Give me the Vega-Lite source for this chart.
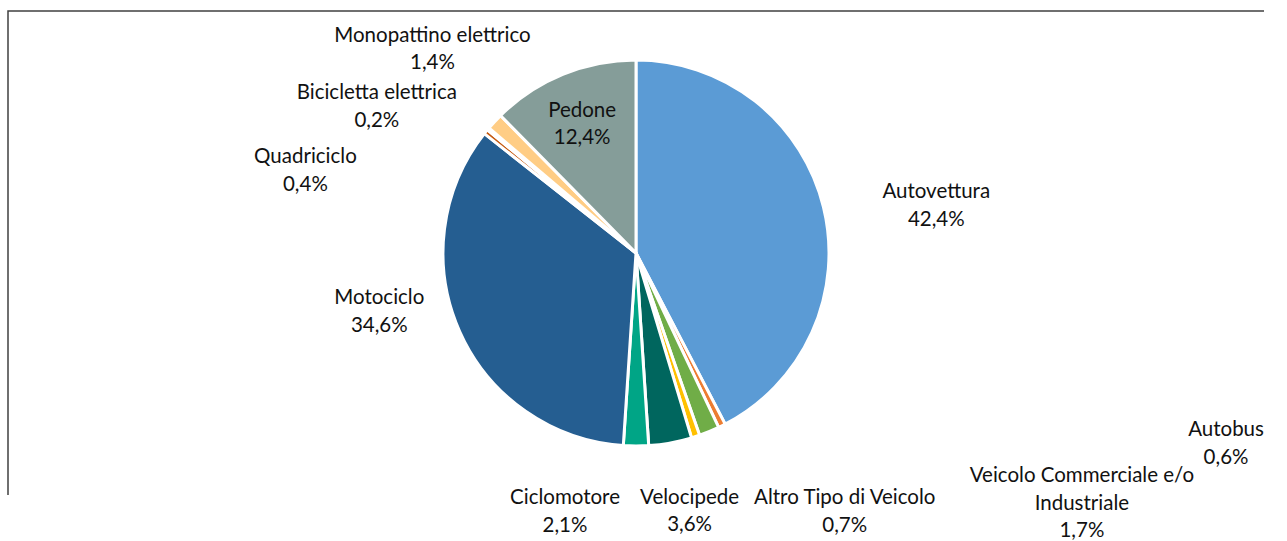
{
  "$schema": "https://vega.github.io/schema/vega-lite/v6.json",
  "width": 1256,
  "height": 484,
  "autosize": {"type": "none"},
  "padding": {"left": 8, "top": 11, "right": 23, "bottom": 46},
  "background": "white",
  "view": {"stroke": "#404040", "strokeWidth": 1.5, "strokeDash": [1256, 1740, 484]},
  "data": {
    "values": [
      {"categoria": "Autovettura", "percentuale": 42.4, "etichetta": "Autovettura\n42,4%"},
      {"categoria": "Autobus", "percentuale": 0.6, "etichetta": "Autobus\n0,6%"},
      {"categoria": "Veicolo Commerciale e/o Industriale", "percentuale": 1.7, "etichetta": "Veicolo Commerciale e/o\nIndustriale\n1,7%"},
      {"categoria": "Altro Tipo di Veicolo", "percentuale": 0.7, "etichetta": "Altro Tipo di Veicolo\n0,7%"},
      {"categoria": "Velocipede", "percentuale": 3.6, "etichetta": "Velocipede\n3,6%"},
      {"categoria": "Ciclomotore", "percentuale": 2.1, "etichetta": "Ciclomotore\n2,1%"},
      {"categoria": "Motociclo", "percentuale": 34.6, "etichetta": "Motociclo\n34,6%"},
      {"categoria": "Quadriciclo", "percentuale": 0.4, "etichetta": "Quadriciclo\n0,4%"},
      {"categoria": "Bicicletta elettrica", "percentuale": 0.2, "etichetta": "Bicicletta elettrica\n0,2%"},
      {"categoria": "Monopattino elettrico", "percentuale": 1.4, "etichetta": "Monopattino elettrico\n1,4%"},
      {"categoria": "Pedone", "percentuale": 12.4, "etichetta": "Pedone\n12,4%"}
    ]
  },
  "transform": [{"window": [{"op": "row_number", "as": "ordine"}]}],
  "layer": [
    {
      "mark": {"type": "arc", "outerRadius": 193, "stroke": "white", "strokeWidth": 3},
      "encoding": {
        "theta": {"field": "percentuale", "type": "quantitative", "stack": true},
        "order": {"field": "ordine", "type": "quantitative"},
        "color": {
          "field": "categoria",
          "type": "nominal",
          "legend": null,
          "scale": {
            "domain": ["Autovettura", "Autobus", "Veicolo Commerciale e/o Industriale", "Altro Tipo di Veicolo", "Velocipede", "Ciclomotore", "Motociclo", "Quadriciclo", "Bicicletta elettrica", "Monopattino elettrico", "Pedone"],
            "range": ["#5B9BD5", "#ED7D31", "#70AD47", "#FFC000", "#00665E", "#00A586", "#255E91", "#C55A11", "#9E480E", "#FFCD85", "#859D99"]
          }
        }
      }
    },
    {
      "mark": {
        "type": "text",
        "radius": 200,
        "font": "Lato",
        "fontSize": 20.5,
        "lineBreak": "\n",
        "lineHeight": 27.5,
        "align": "center",
        "baseline": "middle",
        "color": "#111111",
        "dx": {"expr": "({'Autovettura':106,'Autobus':501,'Veicolo Commerciale e/o Industriale':370,'Altro Tipo di Veicolo':147,'Velocipede':18,'Ciclomotore':-71,'Motociclo':-74,'Quadriciclo':-175,'Bicicletta elettrica':-106,'Monopattino elettrico':-57,'Pedone':22})[datum.categoria]"},
        "dy": {"expr": "({'Autovettura':-13,'Autobus':-2,'Veicolo Commerciale e/o Industriale':38,'Altro Tipo di Veicolo':55,'Velocipede':48,'Ciclomotore':45,'Motociclo':-36,'Quadriciclo':30,'Bicicletta elettrica':-31,'Monopattino elettrico':-81,'Pedone':43})[datum.categoria]"}
      },
      "encoding": {
        "theta": {"field": "percentuale", "type": "quantitative", "stack": true},
        "order": {"field": "ordine", "type": "quantitative"},
        "detail": {"field": "categoria", "type": "nominal"},
        "text": {"field": "etichetta", "type": "nominal"}
      }
    }
  ]
}
